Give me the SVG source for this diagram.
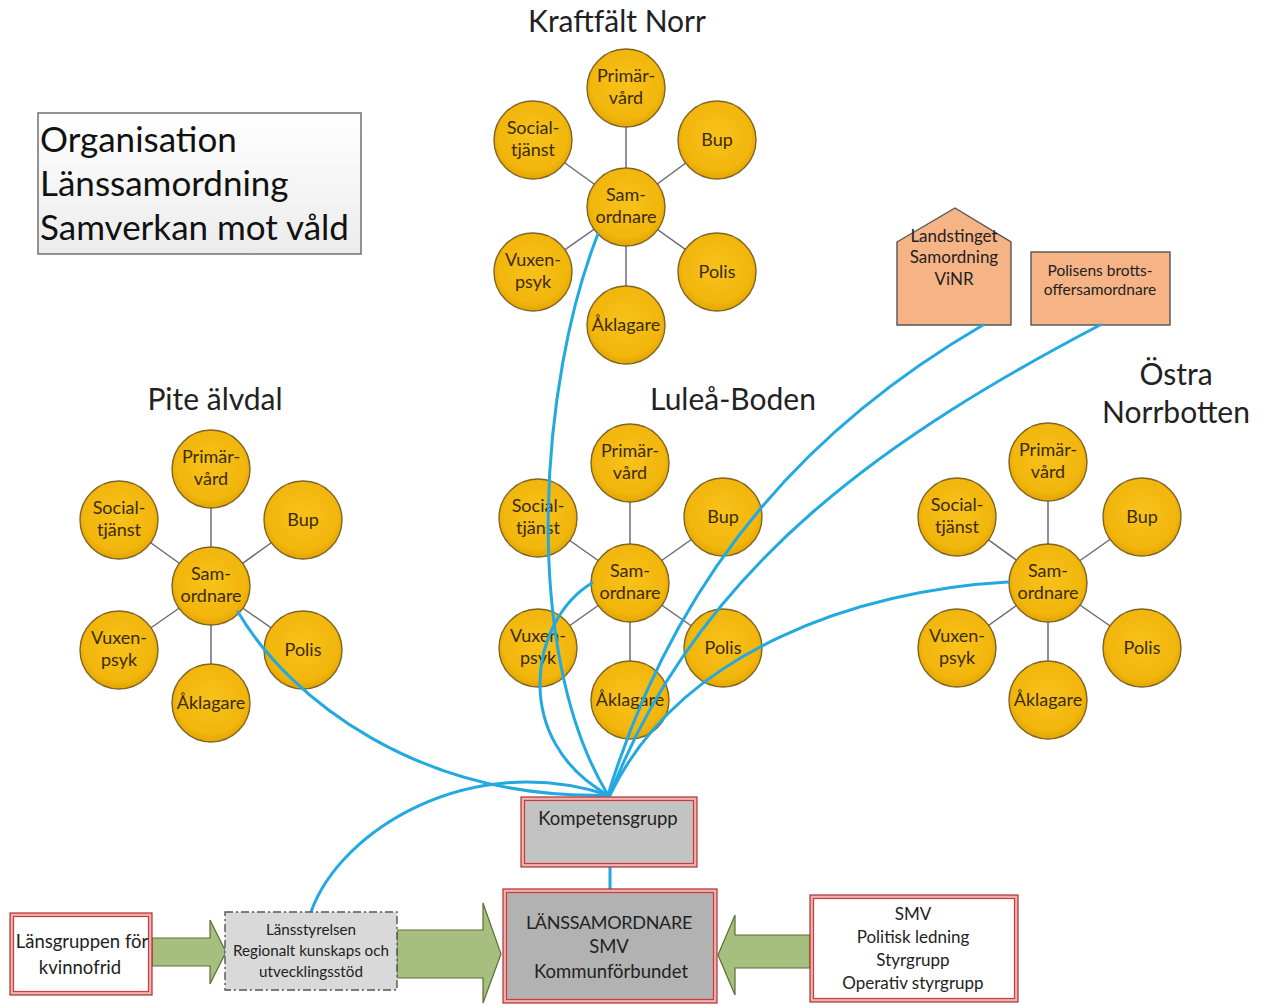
<svg xmlns="http://www.w3.org/2000/svg" width="1270" height="1005" viewBox="0 0 1270 1005">
<defs>
<radialGradient id="gold" cx="50%" cy="45%" r="55%">
<stop offset="0" stop-color="#F8C21C"/>
<stop offset="0.8" stop-color="#F2B60C"/>
<stop offset="1" stop-color="#E3A600"/>
</radialGradient>
<linearGradient id="tbox" x1="0" y1="0" x2="0" y2="1">
<stop offset="0" stop-color="#ffffff"/>
<stop offset="1" stop-color="#ececec"/>
</linearGradient>
</defs>
<style>
.c circle{fill:url(#gold);stroke:#7d6526;stroke-width:1.4}
.c text{font-family:Lato,"Open Sans","Liberation Sans",sans-serif;font-size:18px;fill:#3b2c05;text-anchor:middle}
.spoke{stroke:#6a6a78;stroke-width:1.5}
.lbl{font-family:Lato,"Open Sans","Liberation Sans",sans-serif;font-size:30px;fill:#222;text-anchor:middle}
.title{font-family:Lato,"Open Sans","Liberation Sans",sans-serif;font-size:35px;fill:#111}
.bt{font-family:Lato,"Open Sans","Liberation Sans",sans-serif;fill:#222;text-anchor:middle}
.blue{fill:none;stroke:#22A9E0;stroke-width:3;stroke-linecap:round}
.outer{fill:#f3b0b0;stroke:#a83232;stroke-width:1.2}
.inner{stroke:#c83c3c;stroke-width:1.2}
.garrow{fill:#A7BF7E;stroke:#5b6e33;stroke-width:1.2}
.orange{fill:#F5B386;stroke:#555;stroke-width:1.4}
</style>

<g id="title-box">
<rect x="38" y="113" width="323" height="141" fill="url(#tbox)" stroke="#707070" stroke-width="1.5"/>
<text class="title" x="40" y="152">Organisation</text>
<text class="title" x="40" y="196">Länssamordning</text>
<text class="title" x="40" y="240">Samverkan mot våld</text>
</g>

<g id="labels">
<text class="lbl" x="617" y="32">Kraftfält Norr</text>
<text class="lbl" x="215" y="410">Pite älvdal</text>
<text class="lbl" x="733" y="410">Luleå-Boden</text>
<text class="lbl" x="1176" y="385">Östra</text>
<text class="lbl" x="1176" y="423">Norrbotten</text>
</g>

<!-- Kraftfält Norr cluster -->
<g id="cluster-kraftfalt" transform="translate(626,207)">
<g class="spokes">
<line class="spoke" x1="0" y1="0" x2="0" y2="-119"/>
<line class="spoke" x1="0" y1="0" x2="-93" y2="-67"/>
<line class="spoke" x1="0" y1="0" x2="91" y2="-67"/>
<line class="spoke" x1="0" y1="0" x2="-93" y2="65"/>
<line class="spoke" x1="0" y1="0" x2="91" y2="65"/>
<line class="spoke" x1="0" y1="0" x2="0" y2="118"/>
</g>
<g id="kn-primarvard" class="c"><circle cx="0" cy="-119" r="39"/><text x="0" y="-125">Primär-<tspan x="0" dy="22">vård</tspan></text></g>
<g id="kn-socialtjanst" class="c"><circle cx="-93" cy="-67" r="39"/><text x="-93" y="-73">Social-<tspan x="-93" dy="22">tjänst</tspan></text></g>
<g id="kn-bup" class="c"><circle cx="91" cy="-67" r="39"/><text x="91" y="-61">Bup</text></g>
<g id="kn-samordnare" class="c"><circle cx="0" cy="0" r="39"/><text x="0" y="-6">Sam-<tspan x="0" dy="22">ordnare</tspan></text></g>
<g id="kn-vuxenpsyk" class="c"><circle cx="-93" cy="65" r="39"/><text x="-93" y="59">Vuxen-<tspan x="-93" dy="22">psyk</tspan></text></g>
<g id="kn-polis" class="c"><circle cx="91" cy="65" r="39"/><text x="91" y="71">Polis</text></g>
<g id="kn-aklagare" class="c"><circle cx="0" cy="118" r="39"/><text x="0" y="124">Åklagare</text></g>
</g>

<!-- Pite älvdal cluster -->
<g id="cluster-pite" transform="translate(211,586)">
<g class="spokes">
<line class="spoke" x1="0" y1="0" x2="0" y2="-117"/>
<line class="spoke" x1="0" y1="0" x2="-92" y2="-66"/>
<line class="spoke" x1="0" y1="0" x2="92" y2="-66"/>
<line class="spoke" x1="0" y1="0" x2="-92" y2="64"/>
<line class="spoke" x1="0" y1="0" x2="92" y2="64"/>
<line class="spoke" x1="0" y1="0" x2="0" y2="117"/>
</g>
<g id="pi-primarvard" class="c"><circle cx="0" cy="-117" r="39"/><text x="0" y="-123">Primär-<tspan x="0" dy="22">vård</tspan></text></g>
<g id="pi-socialtjanst" class="c"><circle cx="-92" cy="-66" r="39"/><text x="-92" y="-72">Social-<tspan x="-92" dy="22">tjänst</tspan></text></g>
<g id="pi-bup" class="c"><circle cx="92" cy="-66" r="39"/><text x="92" y="-60">Bup</text></g>
<g id="pi-samordnare" class="c"><circle cx="0" cy="0" r="39"/><text x="0" y="-6">Sam-<tspan x="0" dy="22">ordnare</tspan></text></g>
<g id="pi-vuxenpsyk" class="c"><circle cx="-92" cy="64" r="39"/><text x="-92" y="58">Vuxen-<tspan x="-92" dy="22">psyk</tspan></text></g>
<g id="pi-polis" class="c"><circle cx="92" cy="64" r="39"/><text x="92" y="70">Polis</text></g>
<g id="pi-aklagare" class="c"><circle cx="0" cy="117" r="39"/><text x="0" y="123">Åklagare</text></g>
</g>

<!-- Luleå-Boden cluster -->
<g id="cluster-lulea" transform="translate(630,583)">
<g class="spokes">
<line class="spoke" x1="0" y1="0" x2="0" y2="-120"/>
<line class="spoke" x1="0" y1="0" x2="-92" y2="-65"/>
<line class="spoke" x1="0" y1="0" x2="93" y2="-66"/>
<line class="spoke" x1="0" y1="0" x2="-92" y2="65"/>
<line class="spoke" x1="0" y1="0" x2="93" y2="65"/>
<line class="spoke" x1="0" y1="0" x2="0" y2="117"/>
</g>
<g id="lb-primarvard" class="c"><circle cx="0" cy="-120" r="39"/><text x="0" y="-126">Primär-<tspan x="0" dy="22">vård</tspan></text></g>
<g id="lb-socialtjanst" class="c"><circle cx="-92" cy="-65" r="39"/><text x="-92" y="-71">Social-<tspan x="-92" dy="22">tjänst</tspan></text></g>
<g id="lb-bup" class="c"><circle cx="93" cy="-66" r="39"/><text x="93" y="-60">Bup</text></g>
<g id="lb-samordnare" class="c"><circle cx="0" cy="0" r="39"/><text x="0" y="-6">Sam-<tspan x="0" dy="22">ordnare</tspan></text></g>
<g id="lb-vuxenpsyk" class="c"><circle cx="-92" cy="65" r="39"/><text x="-92" y="59">Vuxen-<tspan x="-92" dy="22">psyk</tspan></text></g>
<g id="lb-polis" class="c"><circle cx="93" cy="65" r="39"/><text x="93" y="71">Polis</text></g>
<g id="lb-aklagare" class="c"><circle cx="0" cy="117" r="39"/><text x="0" y="123">Åklagare</text></g>
</g>

<!-- Östra Norrbotten cluster -->
<g id="cluster-ostra" transform="translate(1048,583)">
<g class="spokes">
<line class="spoke" x1="0" y1="0" x2="0" y2="-121"/>
<line class="spoke" x1="0" y1="0" x2="-91" y2="-66"/>
<line class="spoke" x1="0" y1="0" x2="94" y2="-66"/>
<line class="spoke" x1="0" y1="0" x2="-91" y2="65"/>
<line class="spoke" x1="0" y1="0" x2="94" y2="65"/>
<line class="spoke" x1="0" y1="0" x2="0" y2="117"/>
</g>
<g id="on-primarvard" class="c"><circle cx="0" cy="-121" r="39"/><text x="0" y="-127">Primär-<tspan x="0" dy="22">vård</tspan></text></g>
<g id="on-socialtjanst" class="c"><circle cx="-91" cy="-66" r="39"/><text x="-91" y="-72">Social-<tspan x="-91" dy="22">tjänst</tspan></text></g>
<g id="on-bup" class="c"><circle cx="94" cy="-66" r="39"/><text x="94" y="-60">Bup</text></g>
<g id="on-samordnare" class="c"><circle cx="0" cy="0" r="39"/><text x="0" y="-6">Sam-<tspan x="0" dy="22">ordnare</tspan></text></g>
<g id="on-vuxenpsyk" class="c"><circle cx="-91" cy="65" r="39"/><text x="-91" y="59">Vuxen-<tspan x="-91" dy="22">psyk</tspan></text></g>
<g id="on-polis" class="c"><circle cx="94" cy="65" r="39"/><text x="94" y="71">Polis</text></g>
<g id="on-aklagare" class="c"><circle cx="0" cy="117" r="39"/><text x="0" y="123">Åklagare</text></g>
</g>

<g id="landstinget">
<polygon class="orange" points="897,242 955,208 1011,242 1011,325 897,325"/>
<text class="bt" font-size="17" x="954" y="242">Landstinget</text>
<text class="bt" font-size="17" x="954" y="263">Samordning</text>
<text class="bt" font-size="17" x="954" y="285">ViNR</text>
</g>

<g id="polisens">
<rect class="orange" x="1031" y="252" width="139" height="73"/>
<text class="bt" font-size="15.5" x="1100" y="276">Polisens brotts-</text>
<text class="bt" font-size="15.5" x="1100" y="295">offersamordnare</text>
</g>

<g id="connectors">
<path class="blue" d="M238 612 C290 700 420 800 608 795"/>
<path class="blue" d="M311 912 C340 830 470 750 608 795"/>
<path class="blue" d="M598 234 C540 380 520 650 608 795"/>
<path class="blue" d="M592 583 C530 620 510 740 608 795"/>
<path class="blue" d="M983 325 C820 420 680 560 608 795"/>
<path class="blue" d="M1100 325 C900 430 700 560 610 795"/>
<path class="blue" d="M1008 582 C860 590 680 650 610 795"/>
<line class="blue" x1="610" y1="867" x2="610" y2="889"/>
<polygon class="garrow" points="152,938 210,938 210,920 226,952 210,984 210,966 152,966"/>
<polygon class="garrow" points="397,930 483,930 483,903 501,954 483,1003 483,978 397,978"/>
<polygon class="garrow" points="810,935 735,935 735,915 718,955 735,995 735,968 810,968"/>
</g>

<g id="kompetensgrupp">
<rect class="outer" x="521" y="797" width="176" height="70"/>
<rect class="inner" x="524.5" y="800.5" width="169" height="63" fill="#C3C3C3"/>
<text class="bt" font-size="18.5" x="608" y="825">Kompetensgrupp</text>
</g>

<g id="lanssamordnare">
<rect class="outer" x="503" y="889" width="214" height="114"/>
<rect class="inner" x="506.5" y="892.5" width="207" height="107" fill="#B2B2B2"/>
<text class="bt" font-size="18" x="609" y="929" letter-spacing="-0.3">LÄNSSAMORDNARE</text>
<text class="bt" font-size="18.5" x="609" y="953">SMV</text>
<text class="bt" font-size="18.5" x="611" y="978">Kommunförbundet</text>
</g>

<g id="smv">
<rect class="outer" x="810" y="895" width="208" height="107"/>
<rect class="inner" x="813.5" y="898.5" width="201" height="100" fill="#ffffff"/>
<text class="bt" font-size="17" x="913" y="920">SMV</text>
<text class="bt" font-size="17" x="913" y="943">Politisk ledning</text>
<text class="bt" font-size="17" x="913" y="966">Styrgrupp</text>
<text class="bt" font-size="17" x="913" y="989">Operativ styrgrupp</text>
</g>

<g id="lansgruppen">
<rect class="outer" x="10" y="913" width="142" height="82"/>
<rect class="inner" x="13.5" y="916.5" width="135" height="75" fill="#ffffff"/>
<text class="bt" font-size="18.5" x="82" y="948">Länsgruppen för</text>
<text class="bt" font-size="18.5" x="80" y="974">kvinnofrid</text>
</g>

<g id="lansstyrelsen">
<rect x="225" y="912" width="172" height="78" fill="#D9D9D9" stroke="#555" stroke-width="1.4" stroke-dasharray="8 3 2 3"/>
<text class="bt" font-size="15.2" x="311" y="935">Länsstyrelsen</text>
<text class="bt" font-size="15.2" x="311" y="956">Regionalt kunskaps och</text>
<text class="bt" font-size="15.2" x="311" y="977">utvecklingsstöd</text>
</g>
</svg>
